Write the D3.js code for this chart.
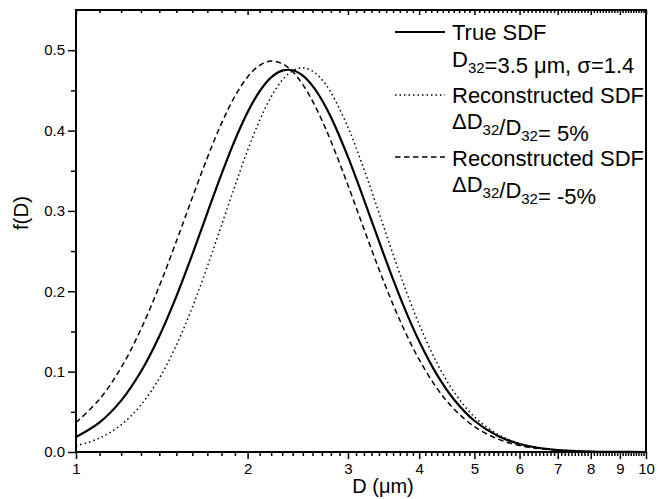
<!DOCTYPE html>
<html>
<head>
<meta charset="utf-8">
<script src="https://cdn.jsdelivr.net/npm/d3@7"></script>
<style>
  html, body { margin: 0; padding: 0; background: #fff; }
  svg { display: block; font-family: "Liberation Sans", Arial, Helvetica, sans-serif; }
</style>
</head>
<body>
<svg id="chart" width="662" height="499"></svg>
<script>
// Droplet diameter samples (µm)
const diameters = [1.0, 1.1, 1.2, 1.3, 1.4, 1.5, 1.6, 1.7, 1.8, 1.9, 2.0, 2.1, 2.2, 2.3, 2.4, 2.5,
  2.6, 2.7, 2.8, 3.0, 3.2, 3.4, 3.6, 3.8, 4.0, 4.3, 4.6, 5.0, 5.5, 6.0, 6.5, 7.0, 8.0, 9.0, 10.0];

// True size distribution function, D32 = 3.5 µm, sigma = 1.4
const trueSDF = [0.0186, 0.0368, 0.0639, 0.1001, 0.1441, 0.1937, 0.2459, 0.2976, 0.3458, 0.3881,
  0.4228, 0.4489, 0.4661, 0.4745, 0.4750, 0.4683, 0.4556, 0.4380, 0.4168, 0.3673, 0.3141, 0.2623,
  0.2148, 0.1731, 0.1378, 0.0960, 0.0657, 0.0389, 0.0199, 0.0100, 0.0050, 0.0025, 0.0006, 0.0002, 0.0000];

// Reconstructed SDF, dD32/D32 = +5 %
const reconPlus5 = [0.0077, 0.0173, 0.0338, 0.0585, 0.0917, 0.1329, 0.1801, 0.2309, 0.2822, 0.3312,
  0.3754, 0.4127, 0.4420, 0.4626, 0.4745, 0.4780, 0.4740, 0.4635, 0.4476, 0.4041, 0.3519, 0.2977,
  0.2459, 0.1992, 0.1589, 0.1105, 0.0751, 0.0438, 0.0218, 0.0106, 0.0051, 0.0025, 0.0006, 0.0001, 0.0000];

// Reconstructed SDF, dD32/D32 = -5 %
const reconMinus5 = [0.0367, 0.0658, 0.1050, 0.1528, 0.2064, 0.2622, 0.3166, 0.3663, 0.4089, 0.4426,
  0.4667, 0.4812, 0.4864, 0.4833, 0.4732, 0.4572, 0.4367, 0.4129, 0.3869, 0.3319, 0.2776, 0.2275,
  0.1834, 0.1460, 0.1150, 0.0791, 0.0537, 0.0316, 0.0161, 0.0081, 0.0041, 0.0021, 0.0005, 0.0001, 0.0000];

const xMajorTicks = [1, 2, 3, 4, 5, 6, 7, 8, 9, 10];
const yMajorTicks = [0.0, 0.1, 0.2, 0.3, 0.4, 0.5];
const yMinorTicks = [0.05, 0.15, 0.25, 0.35, 0.45];

const svg = d3.select("#chart");
const plotLeft = 76, plotRight = 646, plotTop = 10, plotBottom = 452;

const x = d3.scaleLog().domain([1, 10]).range([plotLeft, plotRight]);
const y = d3.scaleLinear().domain([0, 0.55]).range([plotBottom, plotTop]);

// minor ticks every 0.1 inside each integer interval
const xMinor = [];
for (let i = 1; i < 10; i++) for (let j = 1; j < 10; j++) xMinor.push(+(i + j * 0.1).toFixed(1));

// Clip curves to plot area
svg.append("clipPath").attr("id", "plotClip")
  .append("rect").attr("x", plotLeft).attr("y", plotTop)
  .attr("width", plotRight - plotLeft).attr("height", plotBottom - plotTop);

const line = d3.line()
  .x((d, i) => x(diameters[i]))
  .y(d => y(d))
  .curve(d3.curveCatmullRom.alpha(0.5));

const curves = svg.append("g").attr("clip-path", "url(#plotClip)");
curves.append("path").datum(reconMinus5)
  .attr("d", line).attr("fill", "none").attr("stroke", "#000")
  .attr("stroke-width", 1.5).attr("stroke-dasharray", "5.5,3.5");
curves.append("path").datum(reconPlus5)
  .attr("d", line).attr("fill", "none").attr("stroke", "#000")
  .attr("stroke-width", 1.5).attr("stroke-dasharray", "1.5,3");
curves.append("path").datum(trueSDF)
  .attr("d", line).attr("fill", "none").attr("stroke", "#000")
  .attr("stroke-width", 2.2);

// Bottom axis: major ticks with labels, minor ticks without
const xAxisMajor = d3.axisBottom(x).tickValues(xMajorTicks).tickFormat(d3.format("d"))
  .tickSize(7).tickPadding(4);
const xAxisMinor = d3.axisBottom(x).tickValues(xMinor).tickFormat("").tickSize(4);

const gxMinor = svg.append("g").attr("transform", `translate(0,${plotBottom})`).call(xAxisMinor);
const gx = svg.append("g").attr("transform", `translate(0,${plotBottom})`).call(xAxisMajor);

// Top axis: inward ticks only
const topMajor = d3.axisBottom(x).tickValues(xMajorTicks).tickFormat("").tickSize(5);
const topMinor = d3.axisBottom(x).tickValues(xMinor).tickFormat("").tickSize(3);
const gtMinor = svg.append("g").attr("transform", `translate(0,${plotTop})`).call(topMinor);
const gt = svg.append("g").attr("transform", `translate(0,${plotTop})`).call(topMajor);

// Left axis
const yAxisMajor = d3.axisLeft(y).tickValues(yMajorTicks).tickFormat(d3.format(".1f"))
  .tickSize(8).tickPadding(3);
const yAxisMinor = d3.axisLeft(y).tickValues(yMinorTicks).tickFormat("").tickSize(5);
const gyMinor = svg.append("g").attr("transform", `translate(${plotLeft},0)`).call(yAxisMinor);
const gy = svg.append("g").attr("transform", `translate(${plotLeft},0)`).call(yAxisMajor);

[gx, gxMinor, gt, gtMinor, gy, gyMinor].forEach(g => {
  g.select(".domain").remove();
  g.selectAll(".tick line").attr("stroke", "#000").attr("stroke-width", 1.5);
  g.selectAll(".tick text").attr("fill", "#000")
    .style("font-size", "15px")
    .style("font-family", "'Liberation Sans', Arial, Helvetica, sans-serif");
});

// Frame
svg.append("rect")
  .attr("x", plotLeft).attr("y", plotTop)
  .attr("width", plotRight - plotLeft).attr("height", plotBottom - plotTop)
  .attr("fill", "none").attr("stroke", "#000").attr("stroke-width", 2);

// Axis titles
svg.append("text")
  .attr("x", 383).attr("y", 493)
  .attr("text-anchor", "middle")
  .style("font-size", "20px")
  .text("D (μm)");

svg.append("text")
  .attr("transform", "translate(28,213) rotate(-90)")
  .attr("text-anchor", "middle")
  .style("font-size", "20.5px")
  .text("f(D)");

// Legend
const legend = svg.append("g");
const legendX0 = 395, legendX1 = 445, textX = 452;
const legendFont = "22px";

const legendKeys = [
  { y: 32, dash: null, width: 2.2 },
  { y: 95, dash: "1.5,3", width: 1.5 },
  { y: 157, dash: "5.5,3.5", width: 1.5 }
];
legendKeys.forEach(k => {
  const l = legend.append("line")
    .attr("x1", legendX0).attr("x2", legendX1)
    .attr("y1", k.y).attr("y2", k.y)
    .attr("stroke", "#000").attr("stroke-width", k.width);
  if (k.dash) l.attr("stroke-dasharray", k.dash);
});

function addText(yBase, parts) {
  const t = legend.append("text").attr("x", textX).attr("y", yBase).style("font-size", legendFont);
  parts.forEach(p => {
    if (p.sub) {
      t.append("tspan").attr("dy", 6).style("font-size", "15px").text(p.sub);
      t.append("tspan").attr("dy", -6).text("");
    } else {
      t.append("tspan").text(p.t);
    }
  });
}

addText(40, [{ t: "True SDF" }]);
addText(67, [{ t: "D" }, { sub: "32" }, { t: "=3.5 μm, σ=1.4" }]);
addText(103, [{ t: "Reconstructed SDF" }]);
addText(129, [{ t: "ΔD" }, { sub: "32" }, { t: "/D" }, { sub: "32" }, { t: "= 5%" }]);
addText(166, [{ t: "Reconstructed SDF" }]);
addText(192, [{ t: "ΔD" }, { sub: "32" }, { t: "/D" }, { sub: "32" }, { t: "= -5%" }]);
</script>
</body>
</html>
